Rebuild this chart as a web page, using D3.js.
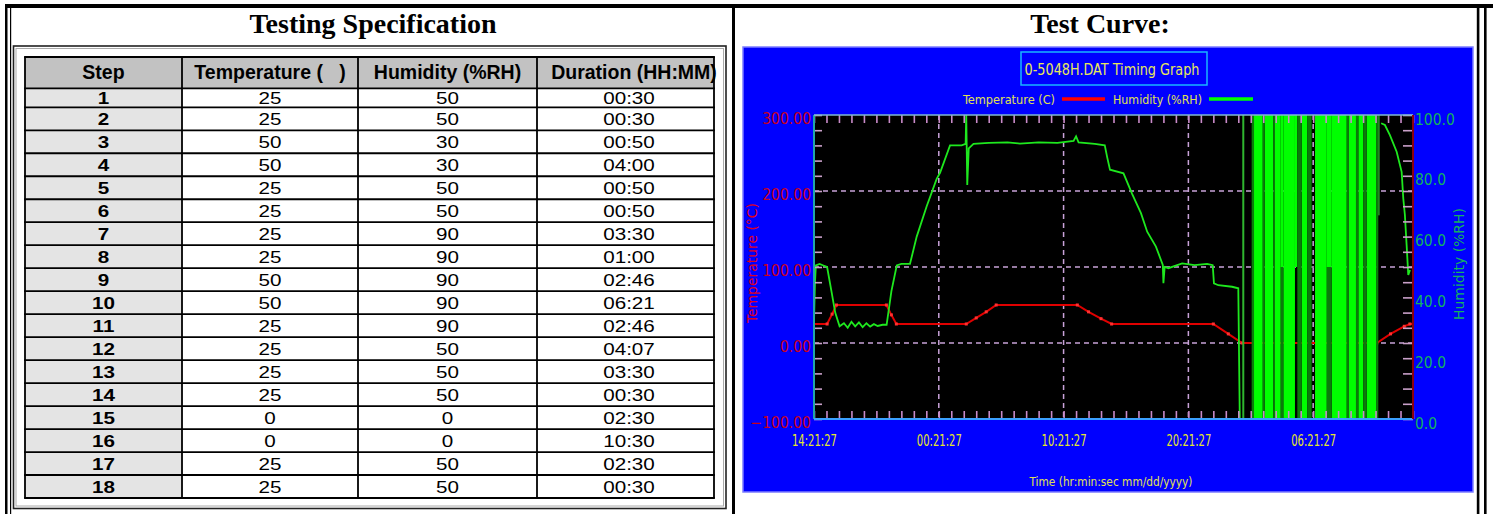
<!DOCTYPE html>
<html>
<head>
<meta charset="utf-8">
<script src="https://cdn.jsdelivr.net/npm/d3@7"></script>
<style>
body { margin: 0; background: #fff; }
svg { display: block; }
</style>
</head>
<body>
<div id="page"></div>
<script>
// ---- testing specification table
var specHeaders = ["Step", "Temperature (   )", "Humidity (%RH)", "Duration (HH:MM)"];
var specSteps = [1, 2, 3, 4, 5, 6, 7, 8, 9, 10, 11, 12, 13, 14, 15, 16, 17, 18];
var specTemp = [25, 25, 50, 50, 25, 25, 25, 25, 50, 50, 25, 25, 25, 25, 0, 0, 25, 25];
var specHum = [50, 50, 30, 30, 50, 50, 90, 90, 90, 90, 90, 50, 50, 50, 0, 0, 50, 50];
var specDur = ["00:30", "00:30", "00:50", "04:00", "00:50", "00:50", "03:30", "01:00", "02:46",
               "06:21", "02:46", "04:07", "03:30", "00:30", "02:30", "10:30", "02:30", "00:30"];

// ---- test curve (hours from 14:21:27)
var tempHours  = [0, 1.05, 1.45, 1.8, 5.8, 6.2, 6.6, 12.2, 13.0, 13.8, 14.6, 21.1, 22.0, 23.0, 23.85, 32.0, 33.2, 34.3, 45.1, 46.2, 47.3, 47.75, 48];
var tempValues = [25, 25, 38, 50, 50, 37, 25, 25, 33, 41, 50, 50, 41, 32, 25, 25, 12, 0, 0, 12, 22, 25, 25];

var humHours  = [0, 0.08, 0.15, 0.45, 0.75, 1.05, 1.4, 1.7, 2.05, 2.4, 2.7, 3.0, 3.3, 3.6, 3.9, 4.2, 4.5, 4.8, 5.1, 5.5,
                 5.82, 6.2, 6.63, 7.0, 7.69, 8.23, 9.03, 9.83, 10.1, 10.9, 11.83, 12.15, 12.2, 12.28, 12.4, 12.78, 14.0, 15.5, 16.5, 18.0,
                 19.5, 20.8, 21.0, 21.2, 22.5, 23.3, 23.5, 23.72, 24.8, 25.5, 26.2, 26.7, 27.4, 27.95, 28.0, 28.1, 28.4, 29.5, 30.5, 31.5,
                 31.95, 32.05, 32.4, 33.5, 34.0, 34.12];
var humValues = [32, 45, 50.5, 51, 50.5, 50, 42, 35, 30.5, 31.5, 30, 32, 30.5, 31.8, 30.2, 31.5, 30.4, 31.2, 30.6, 31,
                 31, 42, 50.5, 51, 51, 60, 70, 79, 81, 90, 90, 90.5, 100, 77, 89, 90.5, 90.8, 91, 90.6, 91,
                 90.8, 91.5, 93, 91, 90.5, 90, 86, 82, 80.8, 74, 67.7, 61.6, 56.7, 50.7, 44.7, 50, 49.6, 51.2, 50.6, 51,
                 50.6, 44.6, 44, 43.5, 43, 0];
var humTailHours  = [45.45, 45.75, 46.15, 46.69, 47.09, 47.22, 47.35, 47.49, 47.62, 47.76];
var humTailValues = [97.3, 96.7, 93.4, 87.9, 81.3, 72.6, 67.1, 57.2, 47.4, 49];

// sensor chatter between ~34h and ~45h: [from h, to h, low %, high %]
var burstSolid = [[35.26, 35.96, 0, 100], [36.12, 36.81, 0, 100], [36.94, 37.40, 0, 100], [37.40, 37.61, 50, 100],
                  [37.61, 38.54, 0, 100], [38.54, 38.73, 50, 100], [39.08, 39.53, 0, 100], [40.15, 41.09, 0, 100],
                  [41.09, 41.49, 50, 100], [41.49, 42.69, 0, 100], [42.87, 43.43, 0, 100], [43.62, 44.02, 0, 100],
                  [44.29, 45.04, 0, 100]];
var burstDense = [[35.07, 35.26, 0, 100], [35.96, 36.12, 0, 100], [36.81, 36.94, 0, 100], [37.40, 37.61, 0, 50],
                  [38.73, 39.08, 0, 100], [39.53, 39.88, 0, 100], [41.09, 41.49, 0, 50], [42.69, 42.87, 0, 100],
                  [43.43, 43.62, 0, 100], [44.02, 44.29, 0, 100], [45.04, 45.22, 0, 100]];
var burstThin = [[34.32, 34.48, 0, 100], [45.22, 45.32, 67, 100]];

var timeTicks = [0, 10, 20, 30, 40];
var timeLabels = ["14:21:27", "00:21:27", "10:21:27", "20:21:27", "06:21:27"];
var tempTicks = [-100, 0, 100, 200, 300];
var humTicks = [0, 20, 40, 60, 80, 100];

var svg = d3.select("#page").append("svg")
    .attr("width", 1500)
    .attr("height", 514);

// ---------- page frame
var frame = svg.append("g").attr("fill", "#000");
frame.append("rect").attr("x", 5).attr("y", 4).attr("width", 1488).attr("height", 4);
frame.append("rect").attr("x", 5).attr("y", 4).attr("width", 2.5).attr("height", 510);
frame.append("rect").attr("x", 10).attr("y", 8).attr("width", 1.2).attr("height", 506);
frame.append("rect").attr("x", 732).attr("y", 4).attr("width", 3).attr("height", 510);
frame.append("rect").attr("x", 1476.8).attr("y", 4).attr("width", 2.6).attr("height", 510);
frame.append("rect").attr("x", 1484).attr("y", 4).attr("width", 2.6).attr("height", 510);

svg.append("text")
    .attr("x", 373).attr("y", 33)
    .attr("text-anchor", "middle")
    .style("font-family", "'Liberation Serif', 'Times New Roman', serif")
    .style("font-weight", "bold")
    .style("font-size", "28px")
    .text("Testing Specification");

svg.append("text")
    .attr("x", 1100).attr("y", 33)
    .attr("text-anchor", "middle")
    .style("font-family", "'Liberation Serif', 'Times New Roman', serif")
    .style("font-weight", "bold")
    .style("font-size", "28px")
    .text("Test Curve:");

// ---------- table
svg.append("rect")
    .attr("x", 13.5).attr("y", 46).attr("width", 712.5).attr("height", 462.5)
    .attr("fill", "none").attr("stroke", "#222").attr("stroke-width", 1.6);
svg.append("rect")
    .attr("x", 16).attr("y", 48.5).attr("width", 707.5).attr("height", 457.5)
    .attr("fill", "none").attr("stroke", "#aaa").attr("stroke-width", 1);

var colEdges = [25, 182, 358, 537, 714];
var colText = [103.5, 270, 447.5, 629];
var headTop = 57, headBottom = 88.3, firstRowBottom = 107.3, tableBottom = 498;
var rowH = (tableBottom - firstRowBottom) / 17;
function rowTop(i) { return i === 0 ? headBottom : firstRowBottom + (i - 1) * rowH; }
function rowBot(i) { return i === 0 ? firstRowBottom : firstRowBottom + i * rowH; }

var table = svg.append("g");
table.append("rect")
    .attr("x", colEdges[0]).attr("y", headTop)
    .attr("width", colEdges[4] - colEdges[0]).attr("height", headBottom - headTop)
    .attr("fill", "#c2c2c2");
table.selectAll(".stepcell")
    .data(specSteps)
    .enter().append("rect")
    .attr("x", colEdges[0]).attr("y", function(d, i) { return rowTop(i); })
    .attr("width", colEdges[1] - colEdges[0])
    .attr("height", function(d, i) { return rowBot(i) - rowTop(i); })
    .attr("fill", "#e4e4e4");

table.selectAll(".head")
    .data(specHeaders)
    .enter().append("text")
    .attr("x", function(d, i) { return i === 3 ? 634 : colText[i]; })
    .attr("y", 79)
    .attr("text-anchor", "middle")
    .style("font-family", "'Liberation Sans', Arial, sans-serif")
    .style("font-weight", "bold")
    .style("font-size", "19.5px")
    .style("white-space", "pre")
    .text(function(d) { return d; });

var rows = specSteps.map(function(s, i) {
  return [String(s), String(specTemp[i]), String(specHum[i]), specDur[i]];
});
rows.forEach(function(r, i) {
  var cy = (rowTop(i) + rowBot(i)) / 2 + 6;
  table.selectAll(".r" + i)
      .data(r)
      .enter().append("text")
      .attr("transform", function(d, j) { return "translate(" + colText[j] + "," + cy + ") scale(1.25,1)"; })
      .attr("text-anchor", "middle")
      .style("font-family", "'Liberation Sans', Arial, sans-serif")
      .style("font-weight", function(d, j) { return j === 0 ? "bold" : "normal"; })
      .style("font-size", "16.5px")
      .text(function(d) { return d; });
});

var grid = table.append("g").attr("stroke", "#000").attr("stroke-width", 1.8);
colEdges.forEach(function(x) {
  grid.append("line").attr("x1", x).attr("x2", x).attr("y1", headTop).attr("y2", tableBottom);
});
[headTop, headBottom].concat(specSteps.map(function(d, i) { return rowBot(i); })).forEach(function(y) {
  grid.append("line").attr("x1", colEdges[0] - 0.9).attr("x2", colEdges[4] + 0.9).attr("y1", y).attr("y2", y);
});

// ---------- test curve panel
var narrow = "'Liberation Sans Narrow', 'DejaVu Sans Condensed', sans-serif";

svg.append("rect")
    .attr("x", 743).attr("y", 47).attr("width", 730).attr("height", 445)
    .attr("fill", "#0000ff").attr("stroke", "#7c7cff").attr("stroke-width", 1.5);

var x = d3.scaleLinear().domain([0, 48]).range([814, 1413]);
var yT = d3.scaleLinear().domain([-100, 300]).range([419, 115]);
var yH = d3.scaleLinear().domain([0, 100]).range([419, 115]);

svg.append("rect")
    .attr("x", x(0)).attr("y", yT(300))
    .attr("width", x(48) - x(0)).attr("height", yT(-100) - yT(300))
    .attr("fill", "#000");

// title box
svg.append("rect")
    .attr("x", 1021).attr("y", 52).attr("width", 186).attr("height", 33)
    .attr("fill", "none").attr("stroke", "#19b6ff").attr("stroke-width", 1.5);
svg.append("text")
    .attr("x", 1112).attr("y", 75)
    .attr("text-anchor", "middle")
    .attr("textLength", 175).attr("lengthAdjust", "spacingAndGlyphs")
    .style("font-family", narrow).style("font-size", "15px")
    .attr("fill", "#e8e85a")
    .text("0-5048H.DAT Timing Graph");

// legend
var legend = svg.append("g").style("font-family", narrow).style("font-size", "13px").attr("fill", "#e0e050");
legend.append("text").attr("x", 963).attr("y", 104)
    .attr("textLength", 92).attr("lengthAdjust", "spacingAndGlyphs").text("Temperature (C)");
legend.append("line").attr("x1", 1062).attr("x2", 1105).attr("y1", 99).attr("y2", 99)
    .attr("stroke", "#ff0000").attr("stroke-width", 3.5);
legend.append("text").attr("x", 1113).attr("y", 104)
    .attr("textLength", 89).attr("lengthAdjust", "spacingAndGlyphs").text("Humidity (%RH)");
legend.append("line").attr("x1", 1209).attr("x2", 1253).attr("y1", 99).attr("y2", 99)
    .attr("stroke", "#00ff00").attr("stroke-width", 3.5);

// grid lines
var gridLines = svg.append("g")
    .attr("stroke", "#c8a2d8").attr("stroke-width", 1.5).attr("stroke-dasharray", "5,4");
gridLines.selectAll(".vg")
    .data(timeTicks.slice(1))
    .enter().append("line")
    .attr("x1", function(d) { return x(d); }).attr("x2", function(d) { return x(d); })
    .attr("y1", yT(300)).attr("y2", yT(-100));
gridLines.selectAll(".hg")
    .data(tempTicks.slice(1, 4))
    .enter().append("line")
    .attr("x1", x(0)).attr("x2", x(48))
    .attr("y1", function(d) { return yT(d); }).attr("y2", function(d) { return yT(d); });

// temperature curve
var tempData = tempHours.map(function(h, i) { return {h: h, v: tempValues[i]}; });
var tempLine = d3.line().x(function(d) { return x(d.h); }).y(function(d) { return yT(d.v); });
svg.append("path")
    .datum(tempData)
    .attr("d", tempLine)
    .attr("fill", "none").attr("stroke", "#e00000").attr("stroke-width", 2);
svg.append("g").selectAll("rect")
    .data(tempData.slice(1, -1))
    .enter().append("rect")
    .attr("x", function(d) { return x(d.h) - 1.5; })
    .attr("y", function(d) { return yT(d.v) - 1.5; })
    .attr("width", 3).attr("height", 3)
    .attr("fill", "#ff3030");

// humidity chatter bands
function drawBands(list, colour) {
  svg.append("g").selectAll("rect")
      .data(list)
      .enter().append("rect")
      .attr("x", function(d) { return x(d[0]); })
      .attr("width", function(d) { return x(d[1]) - x(d[0]); })
      .attr("y", function(d) { return yH(d[3]); })
      .attr("height", function(d) { return yH(d[2]) - yH(d[3]); })
      .attr("fill", colour);
}
drawBands(burstSolid, "#00ff00");
drawBands(burstDense, "#0b7a0b");
drawBands(burstThin, "#2fb52f");

// humidity curve
var humLine = d3.line().x(function(d) { return x(d.h); }).y(function(d) { return yH(d.v); });
var humData = humHours.map(function(h, i) { return {h: h, v: humValues[i]}; });
var humTail = humTailHours.map(function(h, i) { return {h: h, v: humTailValues[i]}; });
[humData, humTail].forEach(function(series) {
  svg.append("path")
      .datum(series)
      .attr("d", humLine)
      .attr("fill", "none").attr("stroke", "#1ee81e").attr("stroke-width", 1.8);
});

// small ticks round the plot
function tickStyle(g, colour) {
  g.select(".domain").remove();
  g.selectAll("line").attr("stroke", colour).attr("stroke-width", 1.6);
  g.selectAll("text").remove();
}
svg.append("g").attr("transform", "translate(0," + yT(300) + ")")
    .call(d3.axisBottom(x).ticks(48).tickSize(8).tickFormat(""))
    .call(tickStyle, "#c98ac9");
svg.append("g").attr("transform", "translate(0," + yT(-100) + ")")
    .call(d3.axisTop(x).ticks(48).tickSize(8).tickFormat(""))
    .call(tickStyle, "#c98ac9");
svg.append("g").attr("transform", "translate(" + x(0) + ",0)")
    .call(d3.axisRight(yT).ticks(20).tickSize(8).tickFormat(""))
    .call(tickStyle, "#c9a0c9");
svg.append("g").attr("transform", "translate(" + x(48) + ",0)")
    .call(d3.axisLeft(yH).ticks(20).tickSize(10).tickFormat(""))
    .call(tickStyle, "#c9a0c9");

// plot edges
svg.append("line").attr("x1", x(0)).attr("x2", x(0)).attr("y1", yT(300)).attr("y2", yT(-100))
    .attr("stroke", "#22a6a6").attr("stroke-width", 2);
svg.append("line").attr("x1", x(0)).attr("x2", x(48)).attr("y1", yT(300)).attr("y2", yT(300))
    .attr("stroke", "#7fb8d0").attr("stroke-width", 1.5);
svg.append("line").attr("x1", x(0)).attr("x2", x(48)).attr("y1", yT(-100)).attr("y2", yT(-100))
    .attr("stroke", "#3aa0ff").attr("stroke-width", 2);
svg.append("line").attr("x1", x(48)).attr("x2", x(48)).attr("y1", yT(300)).attr("y2", yT(-100))
    .attr("stroke", "#8a0010").attr("stroke-width", 2);

// axis labels
var xAxis = svg.append("g")
    .attr("transform", "translate(0," + yT(-100) + ")")
    .call(d3.axisBottom(x).tickValues(timeTicks).tickSize(0)
        .tickFormat(function(d, i) { return timeLabels[i]; }));
xAxis.select(".domain").remove();
xAxis.selectAll("text")
    .attr("y", 27).attr("dy", 0)
    .attr("textLength", 45).attr("lengthAdjust", "spacingAndGlyphs")
    .attr("fill", "#e6e62a")
    .style("font-family", narrow).style("font-size", "15px");

var yAxisL = svg.append("g")
    .attr("transform", "translate(" + x(0) + ",0)")
    .call(d3.axisLeft(yT).tickValues(tempTicks).tickSize(0).tickPadding(3).tickFormat(d3.format(".2f")));
yAxisL.select(".domain").remove();
yAxisL.selectAll("text")
    .attr("dy", 8.5)
    .attr("fill", "#c8001c")
    .style("font-family", narrow).style("font-size", "15.5px");

var yAxisR = svg.append("g")
    .attr("transform", "translate(" + x(48) + ",0)")
    .call(d3.axisRight(yH).tickValues(humTicks).tickSize(0).tickPadding(2).tickFormat(d3.format(".1f")));
yAxisR.select(".domain").remove();
yAxisR.selectAll("text")
    .attr("dy", 9)
    .attr("fill", "#14b060")
    .style("font-family", narrow).style("font-size", "15.5px");

svg.append("text")
    .attr("transform", "translate(757,263) rotate(-90)")
    .attr("text-anchor", "middle")
    .attr("textLength", 120).attr("lengthAdjust", "spacingAndGlyphs")
    .attr("fill", "#e0001c")
    .style("font-family", narrow).style("font-size", "14px")
    .text("Temperature (°C)");

svg.append("text")
    .attr("transform", "translate(1464,264) rotate(-90)")
    .attr("text-anchor", "middle")
    .attr("textLength", 112).attr("lengthAdjust", "spacingAndGlyphs")
    .attr("fill", "#14b060")
    .style("font-family", narrow).style("font-size", "14px")
    .text("Humidity (%RH)");

svg.append("text")
    .attr("x", 1111).attr("y", 486)
    .attr("text-anchor", "middle")
    .attr("textLength", 163).attr("lengthAdjust", "spacingAndGlyphs")
    .attr("fill", "#e0e050")
    .style("font-family", narrow).style("font-size", "13px")
    .text("Time (hr:min:sec mm/dd/yyyy)");
</script>
</body>
</html>
